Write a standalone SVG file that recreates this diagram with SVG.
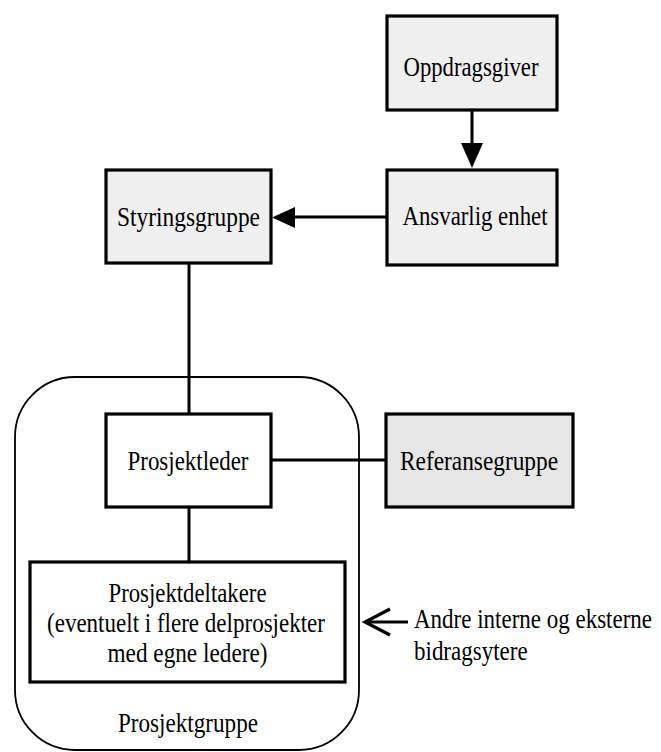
<svg xmlns="http://www.w3.org/2000/svg" width="661" height="752" viewBox="0 0 661 752">
<style>
.box{stroke:#000;stroke-width:3.2}
.grey{fill:#efefef}
.grey2{fill:#e6e6e6}
.white{fill:#fff}
.t{font-family:"Liberation Serif","Times New Roman",serif;font-size:28px;fill:#000;text-anchor:middle}
.tl{font-family:"Liberation Serif","Times New Roman",serif;font-size:23px;fill:#000}
.line{stroke:#000;stroke-width:3;fill:none}
</style>
<rect width="661" height="752" fill="#fff"/>
<g id="prosjektgruppe">
<rect x="15" y="377" width="344" height="373" rx="60" ry="60" fill="none" stroke="#000" stroke-width="1.8"/>
<text class="t" x="188" y="732" textLength="140" lengthAdjust="spacingAndGlyphs">Prosjektgruppe</text>
</g>
<g id="connectors">
<line class="line" x1="472" y1="110" x2="472" y2="143"/>
<path d="M461,143 L483,143 L472,168 Z" fill="#000"/>
<line class="line" x1="387" y1="217" x2="295" y2="217"/>
<path d="M295,207 L295,228 L272,217.5 Z" fill="#000"/>
<line class="line" x1="189" y1="263" x2="189" y2="414"/>
<line class="line" x1="271" y1="460" x2="386" y2="460"/>
<line class="line" x1="189" y1="507" x2="189" y2="562"/>
<line class="line" x1="365" y1="622" x2="408" y2="622"/>
<path d="M390,609 L365,622 L390,635" fill="none" stroke="#000" stroke-width="3.2"/>
</g>
<g id="oppdragsgiver">
<rect class="box grey" x="387" y="16" width="170" height="94"/>
<text class="t" x="471" y="76" textLength="135" lengthAdjust="spacingAndGlyphs">Oppdragsgiver</text>
</g>
<g id="ansvarlig-enhet">
<rect class="box grey" x="387" y="170" width="170" height="95"/>
<text class="t" x="475" y="225" textLength="145" lengthAdjust="spacingAndGlyphs">Ansvarlig enhet</text>
</g>
<g id="styringsgruppe">
<rect class="box grey" x="106" y="170" width="165" height="93"/>
<text class="t" x="188.5" y="226" textLength="143" lengthAdjust="spacingAndGlyphs">Styringsgruppe</text>
</g>
<g id="prosjektleder">
<rect class="box white" x="106" y="414" width="165" height="93"/>
<text class="t" x="188" y="470" textLength="121" lengthAdjust="spacingAndGlyphs">Prosjektleder</text>
</g>
<g id="referansegruppe">
<rect class="box grey2" x="386" y="414" width="187" height="93"/>
<text class="t" x="479" y="470" textLength="158" lengthAdjust="spacingAndGlyphs">Referansegruppe</text>
</g>
<g id="prosjektdeltakere">
<rect class="box white" x="30" y="562" width="315" height="120"/>
<text class="t" x="187.5" y="602" textLength="158" lengthAdjust="spacingAndGlyphs">Prosjektdeltakere</text>
<text class="t" x="186" y="632" textLength="278" lengthAdjust="spacingAndGlyphs">(eventuelt i flere delprosjekter</text>
<text class="t" x="187.5" y="662" textLength="160" lengthAdjust="spacingAndGlyphs">med egne ledere)</text>
</g>
<g id="andre-bidragsytere">
<text class="tl" transform="translate(414,628) scale(1,1.15)" x="0" y="0">Andre interne og eksterne</text>
<text class="tl" transform="translate(414,660) scale(1,1.15)" x="0" y="0">bidragsytere</text>
</g>
</svg>
